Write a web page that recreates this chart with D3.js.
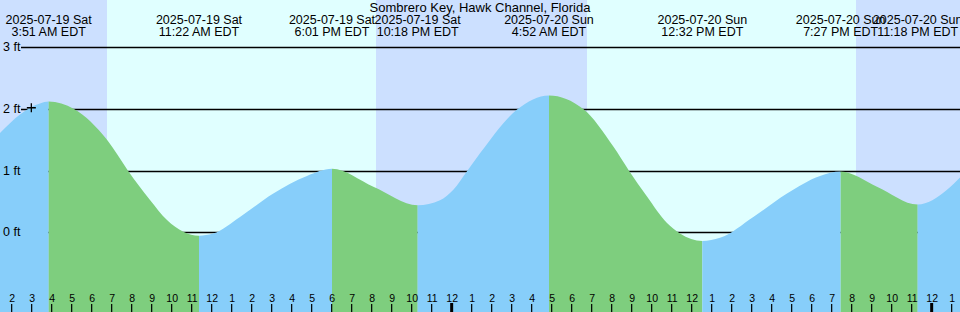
<!DOCTYPE html>
<html>
<head>
<meta charset="utf-8">
<script src="https://cdn.jsdelivr.net/npm/d3@7"></script>
<style>
    body { margin: 0; }
    .chart text { font-family: "Liberation Sans", Arial, sans-serif; fill: #000; }
</style>
</head>
<body>
<svg class="chart"></svg>
<script>
    var title = "Sombrero Key, Hawk Channel, Florida";

    // high / low tide events
    var eventTimes = ["2025-07-19 03:51", "2025-07-19 11:22", "2025-07-19 18:01", "2025-07-19 22:18",
                      "2025-07-20 04:52", "2025-07-20 12:32", "2025-07-20 19:27", "2025-07-20 23:18"];
    var eventTypes = ["high", "low", "high", "low", "high", "low", "high", "low"];
    var eventHeights = [2.12, -0.055, 1.03, 0.44, 2.22, -0.14, 0.985, 0.45];

    // water level (ft)
    var sampleTimes = ["2025-07-19 01:25", "2025-07-19 02:25", "2025-07-19 02:55", "2025-07-19 03:25",
                       "2025-07-19 05:07", "2025-07-19 06:46", "2025-07-19 07:49", "2025-07-19 08:55",
                       "2025-07-19 09:46", "2025-07-19 10:35", "2025-07-19 12:04", "2025-07-19 13:25",
                       "2025-07-19 15:05", "2025-07-19 16:46", "2025-07-19 20:05", "2025-07-19 23:25",
                       "2025-07-20 00:05", "2025-07-20 00:46",
                       "2025-07-20 01:25", "2025-07-20 03:16", "2025-07-20 06:35", "2025-07-20 08:05",
                       "2025-07-20 08:52", "2025-07-20 09:46", "2025-07-20 10:46", "2025-07-20 11:25",
                       "2025-07-20 13:25", "2025-07-20 15:05", "2025-07-20 16:46", "2025-07-20 18:25",
                       "2025-07-20 21:16", "2025-07-21 00:46", "2025-07-21 01:25"];
    var sampleHeights = [1.61, 1.91, 2.02, 2.09,
                         2.0, 1.5, 1.0, 0.525,
                         0.2, 0.01, -0.02, 0.25,
                         0.63, 0.915, 0.74, 0.52,
                         0.69, 0.99,
                         1.28, 1.99, 2.0, 1.39,
                         1.0, 0.58, 0.15, -0.02,
                         -0.09, 0.25, 0.63, 0.915,
                         0.74, 0.69, 0.89];

    // sunrise / sunset
    var sunriseTimes = ["2025-07-19 06:46", "2025-07-20 06:46"];
    var sunsetTimes = ["2025-07-19 20:13", "2025-07-20 20:13"];

    var levels = [0, 1, 2, 3];
    var levelLabels = ["0 ft", "1 ft", "2 ft", "3 ft"];

    var markTime = "2025-07-19 02:59";
    var markHeight = 2.02;

    var startTime = "2025-07-19 01:25";
    var endTime = "2025-07-21 01:25";

    var width = 960;
    var height = 312;

    var parse = d3.timeParse("%Y-%m-%d %H:%M");

    var scaleX = d3.scaleTime()
        .domain([parse(startTime), parse(endTime)])
        .range([0, width]);

    var scaleY = d3.scaleLinear()
        .domain([0, 3])
        .range([232.3, 47.3]);

    var chart = d3.select(".chart")
        .attr("width", width)
        .attr("height", height);

    // day background, then night bands
    chart.append("rect")
        .attr("width", width)
        .attr("height", height)
        .attr("fill", "#e0ffff");

    var nights = [[parse(startTime), parse(sunriseTimes[0])]];
    for (var i = 0; i < sunsetTimes.length; i++) {
        var next = i + 1 < sunriseTimes.length ? parse(sunriseTimes[i + 1]) : parse(endTime);
        nights.push([parse(sunsetTimes[i]), next]);
    }
    chart.selectAll("rect.night")
        .data(nights)
        .enter().append("rect")
        .attr("class", "night")
        .attr("x", d => scaleX(d[0]))
        .attr("y", 0)
        .attr("width", d => scaleX(d[1]) - scaleX(d[0]))
        .attr("height", height)
        .attr("fill", "#cce0ff");

    // level lines (behind the water)
    chart.selectAll("line.level")
        .data(levels)
        .enter().append("line")
        .attr("class", "level")
        .attr("x1", 21)
        .attr("x2", width)
        .attr("y1", d => Math.round(scaleY(d)) + 0.5)
        .attr("y2", d => Math.round(scaleY(d)) + 0.5)
        .attr("stroke", "#000")
        .attr("stroke-width", 1.3);

    // water curve
    var points = [];
    for (var j = 0; j < sampleTimes.length; j++) {
        points.push([parse(sampleTimes[j]), sampleHeights[j]]);
    }
    for (var k = 0; k < eventTimes.length; k++) {
        points.push([parse(eventTimes[k]), eventHeights[k]]);
    }
    points.sort((a, b) => a[0] - b[0]);

    var area = d3.area()
        .x(d => scaleX(d[0]))
        .y0(height)
        .y1(d => scaleY(d[1]))
        .curve(d3.curveMonotoneX);

    chart.append("clipPath")
        .attr("id", "water")
        .append("path")
        .attr("d", area(points));

    // rising (blue) / falling (green) stretches between events
    var edges = [parse(startTime)].concat(eventTimes.map(parse), [parse(endTime)]);
    var stretches = [];
    for (var s = 0; s < edges.length - 1; s++) {
        var nextType = s < eventTypes.length ? eventTypes[s] : "high";
        stretches.push({ a: edges[s], b: edges[s + 1], rising: nextType == "high" });
    }
    chart.append("g")
        .attr("clip-path", "url(#water)")
        .selectAll("rect")
        .data(stretches)
        .enter().append("rect")
        .attr("x", d => scaleX(d.a))
        .attr("y", 0)
        .attr("width", d => scaleX(d.b) - scaleX(d.a))
        .attr("height", height)
        .attr("fill", d => d.rising ? "#87cefa" : "#7ece7e");

    // level labels
    chart.selectAll("text.level")
        .data(levels)
        .enter().append("text")
        .attr("class", "level")
        .attr("x", 3)
        .attr("y", d => scaleY(d) + 4)
        .style("font-size", "12.5px")
        .text((d, i) => levelLabels[i]);

    // plus mark
    var mx = scaleX(parse(markTime));
    var my = scaleY(markHeight);
    chart.append("path")
        .attr("d", "M" + (mx - 4.5) + "," + my + "H" + (mx + 4.5) + "M" + mx + "," + (my - 4.5) + "V" + (my + 4.5))
        .attr("stroke", "#000")
        .attr("stroke-width", 1.3);

    // event labels across the top
    var fmtDate = d3.timeFormat("%Y-%m-%d %a");
    var fmtTime = d3.timeFormat("%-I:%M %p EDT");
    var labels = chart.selectAll("g.event")
        .data(eventTimes.map(parse))
        .enter().append("g")
        .attr("class", "event")
        .attr("transform", d => "translate(" + scaleX(d) + ",0)");
    labels.append("text")
        .attr("y", 24)
        .attr("text-anchor", "middle")
        .style("font-size", "12.5px")
        .text(d => fmtDate(d));
    labels.append("text")
        .attr("y", 36)
        .attr("text-anchor", "middle")
        .style("font-size", "12.5px")
        .text(d => fmtTime(d));

    chart.append("text")
        .attr("x", width / 2)
        .attr("y", 12)
        .attr("text-anchor", "middle")
        .style("font-size", "13px")
        .text(title);

    // hour ticks along the bottom
    var hours = d3.timeHour.range(parse(startTime), parse(endTime));
    var axisX = d3.axisBottom(scaleX)
        .tickValues(hours)
        .tickSize(0)
        .tickFormat(d3.timeFormat("%-I"));

    var ticks = chart.append("g")
        .attr("transform", "translate(0,302)");
    hours.forEach(function (h) {
        var midnight = h.getHours() == 0;
        ticks.append("line")
            .attr("x1", scaleX(h))
            .attr("x2", scaleX(h))
            .attr("y1", midnight ? 1 : 2)
            .attr("y2", 10)
            .attr("stroke", "#000")
            .attr("stroke-width", midnight ? 3 : 1.2);
    });
    var xg = chart.append("g")
        .attr("transform", "translate(0,292)")
        .call(axisX);
    xg.select(".domain").remove();
    xg.selectAll("text")
        .attr("dy", 0)
        .attr("y", 10)
        .style("font-size", "10.5px");
</script>
</body>
</html>
